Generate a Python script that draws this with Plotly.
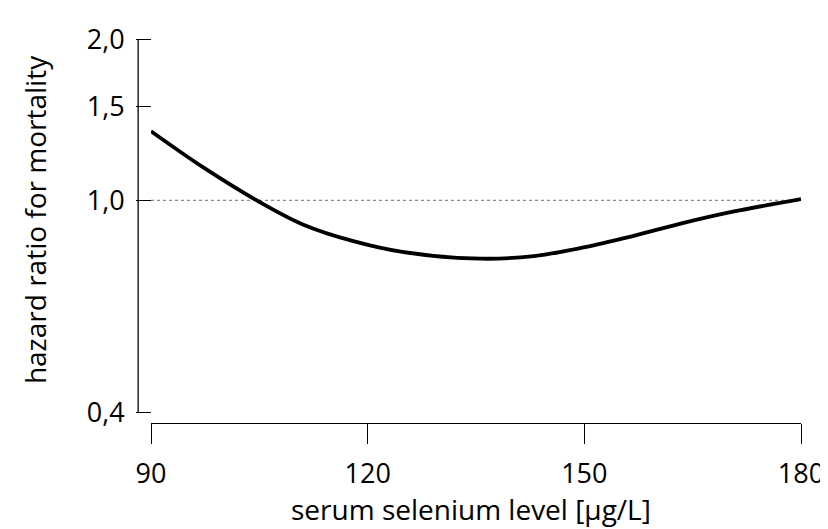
import math
import plotly.graph_objects as go

# Data
selenium = [90.0, 97.4, 104.9, 111.1, 117.9, 124.8, 135.7, 143.0, 149.9, 156.7, 163.6, 170.4, 180.0]
hazard_ratio = [1.348, 1.149, 0.995, 0.900, 0.839, 0.800, 0.777, 0.786, 0.816, 0.857, 0.906, 0.951, 1.005]
x_ticks = [90, 120, 150, 180]
y_ticks = [0.4, 1.0, 1.5, 2.0]
y_tick_text = ["0,4", "1,0", "1,5", "2,0"]
ref_x = [90, 180]
ref_y = [1.0, 1.0]

W, H = 828, 529
L, R, T, B = 143, 28, 17, 114
plot_w = W - L - R
plot_h = H - T - B

px_per_dec = 385 / (math.log10(2.0) - math.log10(0.4))
y_top = math.log10(2.0) + 2 / px_per_dec
y_bot = math.log10(0.4) - 11 / px_per_dec
y_line_start = (math.log10(0.4) - y_bot) / (y_top - y_bot)
y_line_end = (math.log10(2.0) - y_bot) / (y_top - y_bot)
yaxis_pos = (130 - L) / plot_w

FONT = "Open Sans"
FS = 27
FS_TITLE = 28

fig = go.Figure()
fig.add_trace(go.Scatter(x=ref_x, y=ref_y, mode="lines",
                         line=dict(color="#8a8a8a", width=1.2, dash="dot"),
                         hoverinfo="skip", showlegend=False))
fig.add_trace(go.Scatter(x=selenium, y=hazard_ratio, mode="lines",
                         line=dict(color="black", width=3.8, shape="spline", smoothing=1.0),
                         showlegend=False))

fig.update_layout(
    width=W, height=H,
    margin=dict(l=L, r=R, t=T, b=B, pad=0),
    paper_bgcolor="white", plot_bgcolor="white",
    font=dict(family=FONT, size=FS, color="black"),
    xaxis=dict(range=[90, 180], tickvals=x_ticks, ticktext=[str(v) for v in x_ticks],
               showgrid=False, zeroline=False, showline=True, linecolor="black", linewidth=1.3,
               ticks="outside", ticklen=20, tickwidth=1.3, tickcolor="black",
               ticklabelstandoff=6, ticklabeloverflow="allow",
               tickfont=dict(family=FONT, size=FS, color="black")),
    yaxis=dict(type="log", range=[y_bot, y_top], tickvals=y_ticks, ticktext=y_tick_text,
               anchor="free", position=0, showgrid=False, zeroline=False, showline=False,
               ticks="outside", ticklen=15, tickwidth=1.3, tickcolor="black",
               ticklabelstandoff=6, ticklabeloverflow="allow",
               tickfont=dict(family=FONT, size=FS, color="black")),
    shapes=[dict(type="line", xref="paper", yref="paper", x0=yaxis_pos, x1=yaxis_pos,
                 y0=y_line_start, y1=y_line_end, line=dict(color="black", width=1.3))],
    annotations=[
        dict(text="serum selenium level [µg/L]", xref="paper", yref="paper",
             x=(466 - L) / plot_w, y=(415 - 504) / plot_h, xanchor="center", yanchor="middle",
             showarrow=False, font=dict(family=FONT, size=FS_TITLE, color="black")),
        dict(text="hazard ratio for mortality", xref="paper", yref="paper",
             x=(26 - L) / plot_w, y=(415 - 205) / plot_h, xanchor="center", yanchor="middle",
             textangle=-90, showarrow=False, font=dict(family=FONT, size=FS_TITLE, color="black")),
    ],
)

fig.write_html("out.html")
